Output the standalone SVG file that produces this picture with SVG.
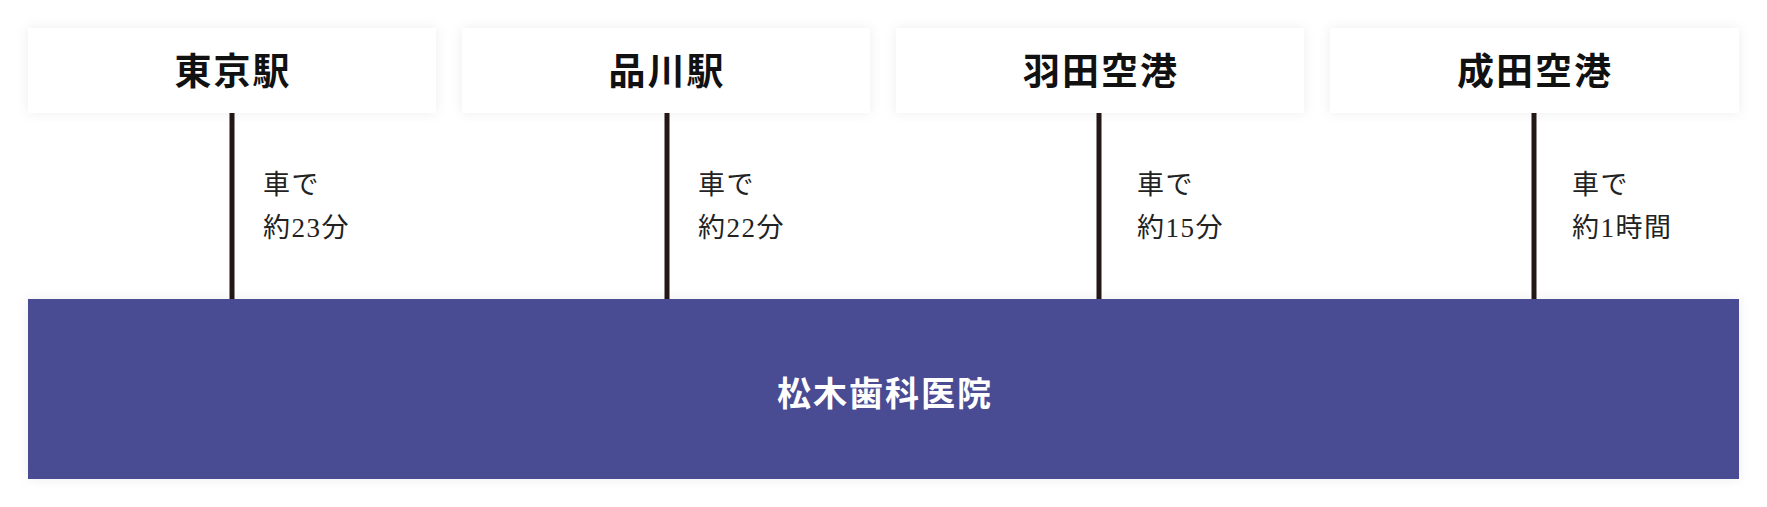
<svg xmlns="http://www.w3.org/2000/svg" width="1767" height="507" viewBox="0 0 1767 507">
  <defs>
    <filter id="soft" x="-10%" y="-40%" width="120%" height="180%">
      <feDropShadow dx="0" dy="0" stdDeviation="6" flood-color="#000" flood-opacity="0.07"/>
    </filter>
    <style>
      .box { fill: #ffffff; filter: url(#soft); }
      .title { font-family: "Liberation Serif", "Noto Sans CJK JP", serif; font-size: 37px; font-weight: bold; fill: #111; text-anchor: middle; letter-spacing: 2px; }
      .label { font-family: "Liberation Serif", "Noto Sans CJK JP", serif; font-size: 27px; fill: #222; letter-spacing: 1.5px; }
      .conn { stroke: #231815; stroke-width: 5; fill: none; }
      .clinic { fill: #4a4b93; filter: url(#soft); }
      .clinic-text { font-family: "Liberation Serif", "Noto Sans CJK JP", serif; font-size: 34px; font-weight: bold; fill: #ffffff; text-anchor: middle; letter-spacing: 2px; }
    </style>
  </defs>
  <rect width="1767" height="507" fill="#ffffff"/>

  <g id="connectors">
    <line class="conn" x1="232" y1="113" x2="232" y2="299"/>
    <line class="conn" x1="667" y1="113" x2="667" y2="299"/>
    <line class="conn" x1="1099" y1="113" x2="1099" y2="299"/>
    <line class="conn" x1="1534" y1="113" x2="1534" y2="299"/>
    <text class="label" x="263" y="194">車で</text>
    <text class="label" x="263" y="237">約23分</text>
    <text class="label" x="698" y="194">車で</text>
    <text class="label" x="698" y="237">約22分</text>
    <text class="label" x="1137" y="194">車で</text>
    <text class="label" x="1137" y="237">約15分</text>
    <text class="label" x="1572" y="194">車で</text>
    <text class="label" x="1572" y="237">約1時間</text>
  </g>

  <g id="node-tokyo">
    <rect class="box" x="28" y="28" width="408" height="85"/>
    <text class="title" x="233" y="85">東京駅</text>
  </g>
  <g id="node-shinagawa">
    <rect class="box" x="462" y="28" width="408" height="85"/>
    <text class="title" x="667" y="85">品川駅</text>
  </g>
  <g id="node-haneda">
    <rect class="box" x="896" y="28" width="408" height="85"/>
    <text class="title" x="1101" y="85">羽田空港</text>
  </g>
  <g id="node-narita">
    <rect class="box" x="1330" y="28" width="409" height="85"/>
    <text class="title" x="1535" y="85">成田空港</text>
  </g>

  <g id="node-clinic">
    <rect class="clinic" x="28" y="299" width="1711" height="180"/>
    <text class="clinic-text" x="885" y="406">松木歯科医院</text>
  </g>
</svg>
